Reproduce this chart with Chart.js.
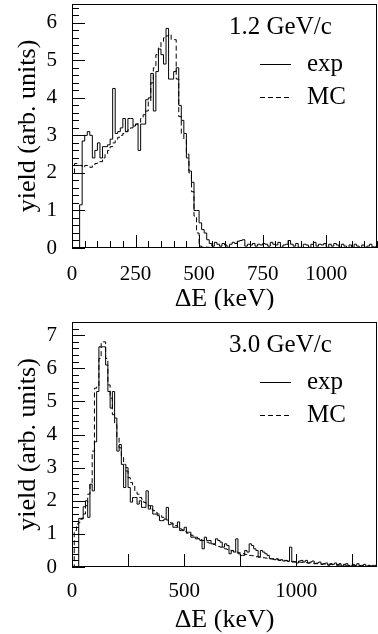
<!DOCTYPE html>
<html>
<head>
<meta charset="utf-8">
<script src="https://cdn.jsdelivr.net/npm/chart.js@4.4.0/dist/chart.umd.min.js"></script>
<style>
  html, body { margin: 0; padding: 0; background: #fff; }
  .panel { position: absolute; left: 0; width: 378px; }
  #panel-top { top: 0; height: 310px; }
  #panel-bottom { top: 310px; height: 324px; }
</style>
</head>
<body>
<div class="panel" id="panel-top"><canvas id="chart-top"></canvas></div>
<div class="panel" id="panel-bottom"><canvas id="chart-bottom"></canvas></div>
<script>
// ---- data (yield in arb. units, bins of dE in keV) ----
const seriesNames = ['exp', 'MC'];
const panelLabels = ['1.2 GeV/c', '3.0 GeV/c'];

// 1.2 GeV/c : 10 keV bins, 0 - 1200 keV
const topBinWidth = 10;
const topExp = [
  0, 0, 0, 0, 1.15, 2.85, 3.0, 3.1, 3.0, 2.4,
  2.6, 2.8, 2.4, 2.7, 2.7, 2.75, 2.9, 4.25, 3.05, 3.1,
  3.2, 3.45, 3.1, 3.45, 3.45, 3.25, 3.3, 2.6, 3.3, 3.3,
  3.95, 4.0, 4.65, 3.65, 4.7, 5.3, 5.15, 4.9, 5.85, 4.5,
  4.5, 4.7, 4.8, 3.8, 3.4, 3.05, 2.4, 2.05, 1.75, 1.0,
  1.0, 0.67, 0.49, 0.4, 0.22, 0.12, 0.05, 0.15, 0.1, 0.05,
  0.12, 0.08, 0.02, 0.1, 0.15, 0.12, 0.18, 0.2, 0.22, 0.05,
  0.1, 0.08, 0.12, 0.05, 0.1, 0.08, 0.12, 0.1, 0.05, 0.15,
  0.1, 0.08, 0.15, 0.02, 0.08, 0.1, 0.2, 0.1, 0.05, 0.12,
  0.02, 0, 0.1, 0.08, 0.02, 0.1, 0.15, 0.05, 0.1, 0.08,
  0.12, 0.02, 0.1, 0.05, 0.12, 0.08, 0.02, 0.1, 0.05, 0,
  0.08, 0.02, 0.1, 0.05, 0, 0.08, 0.02, 0.05, 0.1, 0.03
];
const topMC = [
  1.2, 2.0, 2.25, 2.2, 2.2, 2.15, 2.2, 2.2, 2.15, 2.2,
  2.25, 2.3, 2.3, 2.4, 2.5, 2.6, 2.7, 2.8, 2.9, 2.95,
  3.0, 3.05, 3.1, 3.15, 3.2, 3.25, 3.3, 3.35, 3.45, 3.55,
  3.65, 3.9, 4.4, 4.8, 5.15, 5.35, 5.5, 5.6, 5.65, 5.7,
  5.55, 5.55, 4.5, 3.5, 3.05, 2.9, 2.5, 2.0, 1.5, 0.85,
  0.4, 0.05, 0.02, 0.03, 0.02, 0.01, 0.02, 0, 0.01, 0.02,
  0, 0.01, 0, 0, 0.01, 0, 0, 0.01, 0, 0,
  0, 0, 0.01, 0, 0, 0, 0.01, 0, 0, 0,
  0, 0, 0, 0, 0, 0, 0, 0, 0, 0,
  0, 0, 0, 0, 0, 0, 0, 0, 0, 0,
  0, 0, 0, 0, 0, 0, 0, 0, 0, 0,
  0, 0, 0, 0, 0, 0, 0, 0, 0, 0
];
const topXTicks = [0, 250, 500, 750, 1000];
const topYTicks = [0, 1, 2, 3, 4, 5, 6];

// 3.0 GeV/c : 10 keV bins, 0 - 1360 keV
const botBinWidth = 10;
const botExp = [
  0, 0, 0, 0, 1.47, 1.47, 1.82, 2.0, 1.5, 2.5,
  2.3, 3.78, 5.3, 6.65, 6.65, 6.65, 6.1, 5.3, 4.8, 5.3,
  4.5, 3.5, 3.7, 3.1, 2.4, 3.0, 2.4, 1.96, 2.1, 2.1,
  1.9, 2.0, 1.8, 1.8, 2.3, 1.75, 1.85, 1.6, 1.6, 1.55,
  1.4, 1.4, 1.45, 1.8, 1.28, 1.3, 1.2, 1.2, 1.36, 1.1,
  1.1, 1.2, 1.05, 1.05, 0.9, 0.9, 0.85, 0.85, 0.8, 0.55,
  0.9, 0.8, 0.8, 0.7, 0.7, 0.85, 0.8, 0.75, 0.6, 0.7,
  0.65, 0.4, 0.5, 0.45, 0.85, 0.4, 0.35, 0.35, 0.5, 0.45,
  0.7, 0.65, 0.55, 0.5, 0.3, 0.5, 0.45, 0.4, 0.35, 0.25,
  0.25, 0.22, 0.25, 0.2, 0.22, 0.18, 0.2, 0.17, 0.6, 0.15,
  0.15, 0.12, 0.18, 0.2, 0.15, 0.2, 0.12, 0.15, 0.18, 0.1,
  0.12, 0.15, 0.08, 0.1, 0.12, 0.05, 0.1, 0.08, 0.12, 0.05,
  0.1, 0.03, 0.08, 0.1, 0.05, 0.02, 0.08, 0.05, 0.1, 0.03,
  0.05, 0.08, 0.02, 0.05, 0.03, 0.05
];
const botMC = [
  0, 0, 1.1, 1.3, 1.35, 1.45, 1.6, 1.85, 2.2, 2.5,
  3.5, 5.4, 5.45, 6.3, 6.8, 6.8, 6.3, 5.5, 5.1, 4.6,
  4.3, 3.9, 3.6, 3.35, 3.1, 2.9, 2.7, 2.55, 2.45, 2.3,
  2.2, 2.1, 2.05, 1.95, 1.9, 1.85, 1.75, 1.7, 1.65, 1.6,
  1.55, 1.5, 1.45, 1.42, 1.38, 1.33, 1.3, 1.25, 1.2, 1.15,
  1.12, 1.08, 1.02, 1.0, 0.96, 0.92, 0.9, 0.86, 0.83, 0.8,
  0.78, 0.75, 0.72, 0.7, 0.68, 0.65, 0.62, 0.6, 0.58, 0.55,
  0.53, 0.51, 0.49, 0.47, 0.45, 0.43, 0.42, 0.4, 0.38, 0.37,
  0.35, 0.34, 0.33, 0.31, 0.3, 0.29, 0.28, 0.27, 0.26, 0.25,
  0.24, 0.23, 0.22, 0.21, 0.2, 0.2, 0.19, 0.18, 0.17, 0.17,
  0.16, 0.15, 0.15, 0.14, 0.13, 0.13, 0.12, 0.12, 0.11, 0.11,
  0.1, 0.1, 0.09, 0.09, 0.08, 0.08, 0.08, 0.07, 0.07, 0.07,
  0.06, 0.06, 0.06, 0.05, 0.05, 0.05, 0.05, 0.04, 0.04, 0.04,
  0.04, 0.03, 0.03, 0.03, 0.03, 0.03
];
const botXTicks = [0, 500, 1000];
const botYTicks = [0, 1, 2, 3, 4, 5, 6, 7];

const FONT = "'Liberation Serif', 'Times New Roman', serif";

/**
 * Turn bin contents into stepped line points (left bin edges + closing edge)
 */
function toSteps(values, width) {
    const pts = values.map((v, i) => ({ x: i * width, y: v }));
    pts.push({ x: values.length * width, y: values[values.length - 1] });
    return pts;
}

/**
 * Frame, inward ticks, panel label and legend (ROOT style)
 */
const rootFrame = {
    id: 'rootFrame',
    afterDatasetsDraw(chart, args, opts) {
        const { ctx, chartArea: a, scales: { x, y } } = chart;
        ctx.save();
        ctx.strokeStyle = '#000';
        ctx.lineWidth = 1;
        ctx.setLineDash([]);

        ctx.beginPath();
        const nx = Math.round(x.max / opts.xMinor);
        for (let i = 0; i <= nx; i++) {
            const v = i * opts.xMinor;
            const px = Math.round(x.getPixelForValue(v)) + 0.5;
            const len = (i % opts.xMajorEvery === 0) ? 13 : 7;
            ctx.moveTo(px, a.bottom);
            ctx.lineTo(px, a.bottom - len);
        }
        const ny = Math.floor(y.max / opts.yMinor + 1e-6);
        for (let i = 0; i <= ny; i++) {
            const py = Math.round(y.getPixelForValue(i * opts.yMinor)) + 0.5;
            const len = (i % opts.yMajorEvery === 0) ? 13 : 7;
            ctx.moveTo(a.left, py);
            ctx.lineTo(a.left + len, py);
        }
        ctx.stroke();

        ctx.strokeRect(Math.round(a.left) + 0.5, Math.round(a.top) + 0.5,
            Math.round(a.right - a.left) - 1, Math.round(a.bottom - a.top) - 1);

        // panel label
        ctx.fillStyle = '#000';
        ctx.font = '25px ' + FONT;
        ctx.textBaseline = 'middle';
        ctx.textAlign = 'left';
        ctx.fillText(opts.label, 229, a.top + 23);

        // legend
        const rows = [a.top + 60, a.top + 93];
        chart.data.datasets.forEach((ds, i) => {
            ctx.beginPath();
            ctx.setLineDash(ds.borderDash || []);
            ctx.moveTo(260, rows[i] + 0.5);
            ctx.lineTo(291, rows[i] + 0.5);
            ctx.stroke();
            ctx.setLineDash([]);
            ctx.fillText(ds.label, 307, rows[i]);
        });
        ctx.restore();
    }
};

/**
 * Build one panel
 */
function makePanel(canvasId, cfg) {
    const canvas = document.getElementById(canvasId);
    return new Chart(canvas, {
        type: 'line',
        data: {
            datasets: [
                {
                    label: seriesNames[0],
                    data: toSteps(cfg.exp, cfg.binWidth),
                    stepped: 'after',
                    borderColor: '#000',
                    borderWidth: 1,
                    pointRadius: 0,
                    fill: false
                },
                {
                    label: seriesNames[1],
                    data: toSteps(cfg.mc, cfg.binWidth),
                    stepped: 'after',
                    borderColor: '#000',
                    borderWidth: 1,
                    borderDash: [5, 3],
                    pointRadius: 0,
                    fill: false
                }
            ]
        },
        options: {
            responsive: true,
            maintainAspectRatio: false,
            animation: false,
            layout: { padding: { top: cfg.padTop, right: 1, left: 0, bottom: 0 } },
            plugins: {
                legend: { display: false },
                tooltip: { enabled: false },
                rootFrame: cfg.frame
            },
            scales: {
                x: {
                    type: 'linear',
                    min: 0,
                    max: cfg.xMax,
                    grid: { display: false },
                    border: { display: false },
                    afterBuildTicks: s => { s.ticks = cfg.xTicks.map(v => ({ value: v })); },
                    afterFit: s => {
                        s.height = cfg.xHeight;
                        s.paddingLeft = 0; s.paddingRight = 0;
                    },
                    ticks: {
                        color: '#000',
                        maxRotation: 0,
                        padding: cfg.xTickPad,
                        font: { family: FONT, size: 21 },
                        callback: v => String(v)
                    },
                    title: {
                        display: true,
                        text: 'ΔE (keV)',
                        color: '#000',
                        font: { family: FONT, size: 26, lineHeight: 1 },
                        padding: { top: 0, bottom: cfg.xTitlePad }
                    }
                },
                y: {
                    type: 'linear',
                    min: 0,
                    max: cfg.yMax,
                    grid: { display: false },
                    border: { display: false },
                    afterBuildTicks: s => { s.ticks = cfg.yTicks.map(v => ({ value: v })); },
                    afterFit: s => {
                        s.width = 72;
                        s.paddingTop = 0; s.paddingBottom = 0;
                    },
                    ticks: {
                        color: '#000',
                        padding: 7,
                        font: { family: FONT, size: 21 },
                        callback: v => String(v)
                    },
                    title: {
                        display: true,
                        text: 'yield (arb. units)',
                        color: '#000',
                        font: { family: FONT, size: 26, lineHeight: 1 },
                        padding: { top: 15, bottom: 0 }
                    }
                }
            }
        },
        plugins: [rootFrame]
    });
}

makePanel('chart-top', {
    exp: topExp, mc: topMC, binWidth: topBinWidth,
    xMax: 1200, yMax: 6.5, xTicks: topXTicks, yTicks: topYTicks,
    padTop: 4, xHeight: 62, xTickPad: 6, xTitlePad: -2,
    frame: { label: panelLabels[0], xMinor: 50, xMajorEvery: 5, yMinor: 0.2, yMajorEvery: 5 }
});

makePanel('chart-bottom', {
    exp: botExp, mc: botMC, binWidth: botBinWidth,
    xMax: 1360, yMax: 7.4, xTicks: botXTicks, yTicks: botYTicks,
    padTop: 12, xHeight: 67, xTickPad: 4, xTitlePad: 1,
    frame: { label: panelLabels[1], xMinor: 250, xMajorEvery: 1, yMinor: 0.2, yMajorEvery: 5 }
});
</script>
</body>
</html>
